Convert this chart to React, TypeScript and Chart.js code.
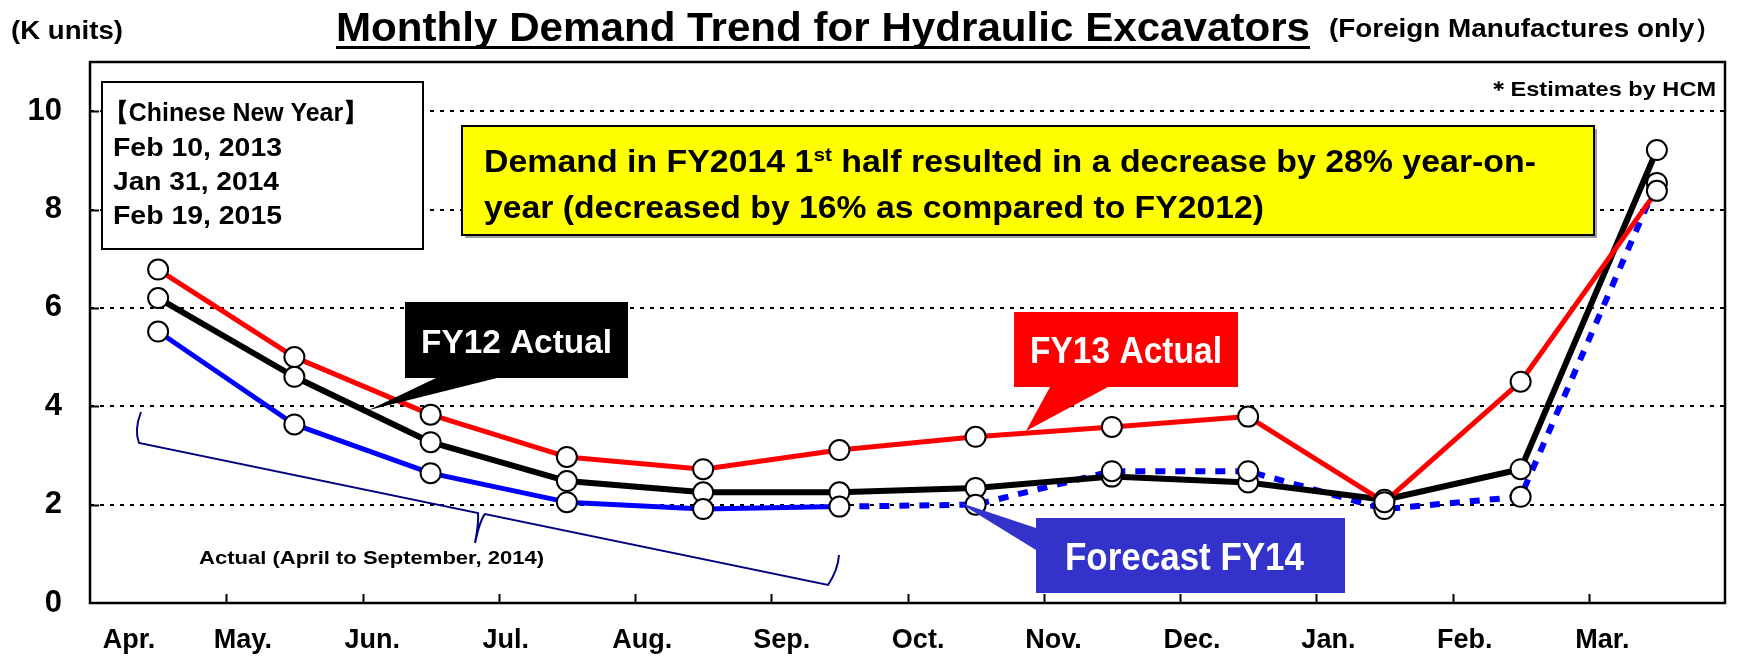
import React, { useEffect, useRef } from 'react';
import { Chart, registerables } from 'chart.js';

Chart.register(...registerables);

// ---------------- data ----------------
const months = ['Apr.', 'May.', 'Jun.', 'Jul.', 'Aug.', 'Sep.', 'Oct.', 'Nov.', 'Dec.', 'Jan.', 'Feb.', 'Mar.'];
const fy13Actual = [6.78, 5.0, 3.83, 2.97, 2.72, 3.11, 3.38, 3.58, 3.79, 2.05, 4.5, 8.38];
const fy12Actual = [6.2, 4.6, 3.27, 2.48, 2.25, 2.25, 2.34, 2.57, 2.45, 2.1, 2.72, 9.21];
const fy14Actual = [5.52, 3.63, 2.64, 2.05, 1.91, 1.96]; // Apr..Sep
const fy14Forecast = [2.0, 2.68, 2.68, 1.91, 2.16, 8.54]; // Oct..Mar
const yTickValues = [0, 2, 4, 6, 8, 10];

// ---------------- layout (not data) ----------------
const W = 1737;
const H = 659;
const monthLabelOffset = [0.286, 1.122, 2.072, 3.052, 4.053, 5.077, 6.078, 7.072, 8.088, 9.089, 10.09, 11.1];
const FONT = '"Liberation Sans", Arial, sans-serif';

const toPoints = (vals: number[], start = 0) => vals.map((v, i) => ({ x: start + i + 0.5, y: v }));

function fitText(
  ctx: CanvasRenderingContext2D,
  text: string,
  left: number,
  right: number,
  cy: number,
  size: number,
  color: string
) {
  ctx.save();
  ctx.font = `bold ${size}px ${FONT}`;
  const w = ctx.measureText(text).width;
  const sx = (right - left) / w;
  ctx.translate(left, cy + size * 0.358);
  ctx.scale(sx, 1);
  ctx.fillStyle = color;
  ctx.textAlign = 'left';
  ctx.textBaseline = 'alphabetic';
  ctx.fillText(text, 0, 0);
  ctx.restore();
}

const decorPlugin = {
  id: 'decor',
  afterDatasetsDraw(chart: any) {
    const ctx: CanvasRenderingContext2D = chart.ctx;
    ctx.save();

    // Chinese New Year box
    ctx.fillStyle = '#ffffff';
    ctx.fillRect(102, 82, 321, 167);
    ctx.strokeStyle = '#000';
    ctx.lineWidth = 2;
    ctx.strokeRect(102, 82, 321, 167);
    fitText(ctx, '【Chinese New Year】', 104, 368, 112, 25, '#000');
    fitText(ctx, 'Feb 10, 2013', 113, 282, 147, 25, '#000');
    fitText(ctx, 'Jan 31, 2014', 113, 279, 181, 25, '#000');
    fitText(ctx, 'Feb 19, 2015', 113, 282, 215, 25, '#000');

    // Yellow comment box
    ctx.fillStyle = '#a0a0a0';
    ctx.fillRect(465, 129, 1132, 109);
    ctx.fillStyle = '#ffff00';
    ctx.fillRect(462, 126, 1132, 109);
    ctx.strokeStyle = '#000';
    ctx.lineWidth = 2;
    ctx.strokeRect(462, 126, 1132, 109);
    {
      const big = `bold 31px ${FONT}`;
      const small = `bold 19px ${FONT}`;
      const a = 'Demand in FY2014 1';
      const s = 'st';
      const c = ' half resulted in a decrease by 28% year-on-';
      ctx.font = big;
      const wa = ctx.measureText(a).width;
      const wc = ctx.measureText(c).width;
      ctx.font = small;
      const ws = ctx.measureText(s).width;
      const sx = (1536 - 484) / (wa + ws + wc);
      ctx.save();
      ctx.translate(484, 161 + 31 * 0.358);
      ctx.scale(sx, 1);
      ctx.fillStyle = '#000';
      ctx.textBaseline = 'alphabetic';
      ctx.textAlign = 'left';
      ctx.font = big;
      ctx.fillText(a, 0, 0);
      ctx.font = small;
      ctx.fillText(s, wa, -11);
      ctx.font = big;
      ctx.fillText(c, wa + ws, 0);
      ctx.restore();
    }
    fitText(ctx, 'year (decreased by 16% as compared to FY2012)', 484, 1264, 207, 31, '#000');

    // Estimates note
    fitText(ctx, '＊Estimates by HCM', 1487, 1716, 88, 21, '#000');

    // FY12 callout
    ctx.fillStyle = '#000';
    ctx.beginPath();
    ctx.moveTo(405, 302);
    ctx.lineTo(628, 302);
    ctx.lineTo(628, 378);
    ctx.lineTo(497, 378);
    ctx.lineTo(369, 410);
    ctx.lineTo(436, 378);
    ctx.lineTo(405, 378);
    ctx.closePath();
    ctx.fill();
    fitText(ctx, 'FY12 Actual', 421, 612, 341, 34, '#fff');

    // FY13 callout
    ctx.fillStyle = '#ff0000';
    ctx.beginPath();
    ctx.moveTo(1014, 312);
    ctx.lineTo(1238, 312);
    ctx.lineTo(1238, 387);
    ctx.lineTo(1108, 387);
    ctx.lineTo(1026, 431);
    ctx.lineTo(1050, 387);
    ctx.lineTo(1014, 387);
    ctx.closePath();
    ctx.fill();
    fitText(ctx, 'FY13 Actual', 1030, 1222, 350, 36, '#fff');

    // Forecast callout
    ctx.fillStyle = '#3333cc';
    ctx.beginPath();
    ctx.moveTo(1036, 518);
    ctx.lineTo(1345, 518);
    ctx.lineTo(1345, 593);
    ctx.lineTo(1036, 593);
    ctx.lineTo(1036, 550);
    ctx.lineTo(958, 502);
    ctx.lineTo(1036, 528);
    ctx.closePath();
    ctx.fill();
    fitText(ctx, 'Forecast FY14', 1065, 1304, 556, 38, '#fff');

    // Bracket for actual period
    ctx.strokeStyle = '#000080';
    ctx.lineWidth = 2;
    ctx.beginPath();
    ctx.moveTo(141, 412);
    ctx.quadraticCurveTo(134, 430, 139, 443);
    ctx.lineTo(478, 513);
    ctx.quadraticCurveTo(479, 522, 475, 543);
    ctx.quadraticCurveTo(480, 520, 485, 514);
    ctx.lineTo(828, 585);
    ctx.quadraticCurveTo(838, 570, 839, 555);
    ctx.stroke();
    fitText(ctx, 'Actual (April to September, 2014)', 199, 544, 557, 19, '#000');

    ctx.restore();
  },
  afterDraw(chart: any) {
    const ctx: CanvasRenderingContext2D = chart.ctx;
    const a = chart.chartArea;
    const xs = chart.scales.x;
    const ys = chart.scales.y;
    ctx.save();
    // frame
    ctx.strokeStyle = '#000';
    ctx.lineWidth = 2.5;
    ctx.strokeRect(a.left, a.top, a.right - a.left, a.bottom - a.top);
    // x tick marks (inward)
    ctx.lineWidth = 2;
    for (let i = 1; i < months.length; i++) {
      const px = Math.round(xs.getPixelForValue(i)) + 0.5;
      ctx.beginPath();
      ctx.moveTo(px, a.bottom);
      ctx.lineTo(px, a.bottom - 9);
      ctx.stroke();
    }
    // y tick marks (inward)
    yTickValues.forEach((v) => {
      if (v === 0) return;
      const py = Math.round(ys.getPixelForValue(v)) + 0.5;
      ctx.beginPath();
      ctx.moveTo(a.left, py);
      ctx.lineTo(a.left + 9, py);
      ctx.stroke();
    });

    // header texts
    fitText(ctx, '(K units)', 11, 123, 30, 26, '#000');
    fitText(ctx, 'Monthly Demand Trend for Hydraulic Excavators', 336, 1310, 27, 40, '#000');
    ctx.fillStyle = '#000';
    ctx.fillRect(336, 46, 974, 3);
    fitText(ctx, '(Foreign Manufactures only）', 1329, 1722, 28, 26, '#000');
    ctx.restore();
  },
};

export default function App() {
  const canvasRef = useRef<HTMLCanvasElement | null>(null);

  useEffect(() => {
    if (!canvasRef.current) return;
    const fy14All = [...fy14Actual, ...fy14Forecast];
    const markerBase = {
      showLine: false,
      pointRadius: 10,
      pointHoverRadius: 10,
      pointBorderWidth: 2,
      pointBackgroundColor: '#ffffff',
      pointBorderColor: '#000000',
    };
    const chart = new Chart(canvasRef.current, {
      type: 'line',
      data: {
        datasets: [
          { label: 'FY13 markers', data: toPoints(fy13Actual), ...markerBase },
          { label: 'FY14 markers', data: toPoints(fy14All), ...markerBase },
          { label: 'FY12 markers', data: toPoints(fy12Actual), ...markerBase },
          {
            label: 'FY13 Actual',
            data: toPoints(fy13Actual),
            borderColor: '#ff0000',
            borderWidth: 5,
            pointRadius: 0,
            tension: 0,
            borderJoinStyle: 'round',
          },
          {
            label: 'FY12 Actual',
            data: toPoints(fy12Actual),
            borderColor: '#000000',
            borderWidth: 6,
            pointRadius: 0,
            tension: 0,
            borderJoinStyle: 'round',
          },
          {
            label: 'FY14 Actual',
            data: toPoints(fy14Actual),
            borderColor: '#0000ff',
            borderWidth: 5,
            pointRadius: 0,
            tension: 0,
            borderJoinStyle: 'round',
          },
          {
            label: 'Forecast FY14',
            data: [{ x: fy14Actual.length - 0.5, y: fy14Actual[fy14Actual.length - 1] }, ...toPoints(fy14Forecast, fy14Actual.length)],
            borderColor: '#0000ff',
            borderWidth: 6,
            borderDash: [10, 10],
            pointRadius: 0,
            tension: 0,
          },
        ],
      } as any,
      options: {
        responsive: false,
        animation: false,
        devicePixelRatio: 1,
        layout: { padding: { top: 62, right: 6, left: 0, bottom: 0 } },
        plugins: { legend: { display: false }, tooltip: { enabled: false } },
        scales: {
          x: {
            type: 'linear',
            min: 0,
            max: months.length,
            grid: { display: false },
            border: { display: false },
            afterBuildTicks: (s: any) => {
              s.ticks = monthLabelOffset.map((v) => ({ value: v }));
            },
            afterFit: (s: any) => {
              s.height = 56;
            },
            ticks: {
              autoSkip: false,
              maxRotation: 0,
              minRotation: 0,
              padding: 13,
              color: '#000',
              font: { family: FONT, size: 27, weight: 'bold' },
              callback: (_v: any, i: number) => months[i],
            },
          },
          y: {
            min: 0,
            max: 11,
            grid: {
              drawTicks: false,
              lineWidth: 2,
              color: (c: any) => (c.tick && yTickValues.includes(c.tick.value) && c.tick.value > 0 ? '#000' : 'rgba(0,0,0,0)'),
            },
            border: { display: false, dash: [4, 6] },
            afterFit: (s: any) => {
              s.width = 90;
            },
            afterBuildTicks: (s: any) => {
              s.ticks = yTickValues.map((v) => ({ value: v }));
            },
            ticks: {
              padding: 28,
              color: '#000',
              font: { family: FONT, size: 31, weight: 'bold' },
              callback: (v: any) => String(v),
            },
          },
        },
      } as any,
      plugins: [decorPlugin],
    });
    return () => chart.destroy();
  }, []);

  return (
    <div style={{ position: 'absolute', left: 0, top: 0, width: W, height: H, background: '#fff' }}>
      <canvas ref={canvasRef} width={W} height={H} style={{ width: W, height: H, display: 'block' }} />
    </div>
  );
}
